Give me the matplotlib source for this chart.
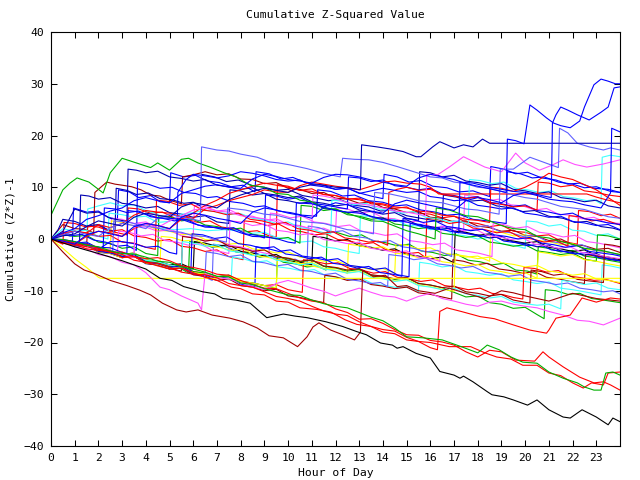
import matplotlib
matplotlib.use("Agg")
import matplotlib.pyplot as plt

# ---------------- data: (hour, cumulative value) breakpoints ----------------
RED = "#ff0000"; GREEN = "#00b000"; BLUE = "#0000ff"; NAVY = "#0000b0"; SLATE = "#6060ff"
MAGENTA = "#ff50ff"; CYAN = "#40ffff"; DARKRED = "#a00000"; YELLOW = "#ffff00"; BLACK = "#000000"

black_bottom = [(0,0),(1,-1.5),(2,-2.8),(3,-4.2),(3.5,-5.0),(4.0,-5.8),(4.6,-7.6),(5.1,-8.0),(5.6,-9.2),(6.4,-10.2),(6.9,-10.6),(7.25,-11.5),(7.8,-11.8),(8.4,-12.4),(9.1,-15.2),(9.8,-14.5),(10.3,-14.9),(10.8,-15.2),(11.6,-16.0),(12.3,-16.9),(12.9,-17.9),(13.3,-18.5),(13.9,-20.1),(14.4,-20.5),(14.6,-21.1),(14.85,-20.8),(15.1,-21.4),(15.4,-22.1),(16.0,-23.0),(16.4,-25.6),(17.0,-26.3),(17.25,-26.9),(17.4,-26.5),(17.8,-27.6),(18.4,-29.5),(18.6,-30.1),(19.1,-30.5),(19.5,-31.1),(20.1,-32.1),(20.5,-31.1),(21.0,-33.0),(21.6,-34.4),(21.9,-34.6),(22.4,-33.0),(23.0,-34.4),(23.5,-35.9),(23.7,-34.6),(24.0,-35.3)]
darkred_low = [(0,0),(0.5,-2.5),(1.0,-4.8),(1.4,-6.0),(1.8,-6.6),(2.5,-8.0),(3.2,-9.0),(3.75,-9.9),(4.2,-10.8),(4.7,-12.4),(5.3,-13.7),(5.7,-14.1),(6.2,-13.7),(6.8,-14.7),(7.55,-15.3),(8.1,-16.0),(8.7,-17.2),(9.2,-18.7),(9.8,-19.1),(10.4,-20.8),(10.8,-18.9),(11.05,-17.0),(11.3,-16.2),(11.8,-17.6),(12.3,-18.5),(12.8,-19.5),(13.05,-18.0),(13.15,-6.0),(13.6,-7.3),(14.1,-7.0),(14.6,-9.2),(15.0,-9.0),(15.5,-10.0),(16.2,-10.5),(16.8,-9.5),(17.5,-10.5),(18.3,-11.5),(19.0,-10.0),(19.5,-10.4),(20.0,-11.0),(21.0,-12.0),(22.0,-10.5),(22.5,-11.0),(23.0,-11.5),(24,-12.0)]
red_low_a = [(0,0),(0.5,-0.2),(1,-0.8),(1.5,-1.5),(2,-2.0),(2.5,-2.3),(3,-3.6),(3.5,-3.4),(4,-4.5),(4.5,-5.2),(5,-5.8),(5.5,-5.6),(6,-6.5),(6.5,-7.4),(7,-8.0),(7.6,-9.3),(8.0,-9.6),(8.5,-10.6),(9.0,-10.8),(9.5,-12.0),(10.0,-12.2),(10.5,-13.3),(11.2,-13.6),(11.8,-14.1),(12.4,-15.6),(12.9,-16.5),(13.5,-16.9),(14,-18),(14.5,-18.3),(15,-19.5),(15.5,-19.8),(16,-21),(16.3,-21.4),(16.4,-14.0),(16.7,-13.3),(17.3,-14.0),(18.1,-15.0),(18.7,-15.4),(19.5,-16.6),(20.2,-17.6),(20.9,-18.2),(21.0,-17.6),(21.3,-15.3),(21.9,-14.7),(22.4,-11.4),(23.0,-12.2),(23.6,-11.4),(24,-11.6)]
red_low_b = [(0,0),(0.5,-0.8),(1,-1.2),(1.5,-1.0),(2,-1.8),(2.5,-2.6),(3,-2.5),(3.5,-3.4),(4,-3.8),(4.5,-3.6),(5,-4.2),(5.5,-5.2),(6,-5.5),(6.5,-6.0),(7,-6.8),(7.5,-7.0),(8,-8.0),(8.5,-8.8),(9,-9.5),(9.5,-9.6),(10,-10.5),(10.5,-11.4),(11,-12.0),(11.5,-12.3),(12,-13.5),(12.5,-14.2),(13,-15.5),(13.5,-15.4),(14,-16.3),(14.5,-17.5),(15,-18.5),(15.5,-18.6),(16,-19.6),(16.5,-19.9),(17,-20.5),(17.5,-21.8),(18,-22.8),(18.5,-21.5),(19.0,-21.8),(19.6,-23.4),(20.4,-23.6),(20.75,-21.8),(21.0,-22.8),(21.6,-24.7),(22.3,-26.7),(22.9,-27.8),(23.3,-27.6),(23.6,-28.2),(24,-29.2)]
green_low = [(0,0),(0.5,-0.1),(1,-0.5),(1.5,-1.2),(2,-1.5),(2.5,-2.3),(3,-2.8),(3.5,-2.9),(4,-3.5),(4.5,-4.3),(5,-4.5),(5.5,-5.4),(6,-5.8),(6.5,-6.4),(7,-7.2),(7.5,-7.3),(8,-8.5),(8.5,-8.8),(9,-9.6),(9.5,-10.2),(10,-10.8),(10.5,-10.9),(11,-11.8),(11.5,-12.5),(12,-13.0),(12.5,-13.3),(13,-14.2),(13.5,-15.1),(14,-15.8),(14.5,-17.2),(15,-18.9),(15.7,-19.1),(16.5,-19.5),(17.3,-20.8),(18.0,-22.0),(18.4,-20.5),(18.9,-21.4),(19.4,-22.8),(19.9,-23.8),(20.5,-24.0),(21.0,-25.7),(21.6,-26.9),(22.2,-27.8),(22.5,-28.6),(22.9,-29.2),(23.2,-29.2),(23.4,-25.9),(23.7,-25.7),(24,-26.3)]
red_low_c = [(0,0),(0.5,-0.6),(1,-1),(1.5,-1.9),(2,-2.2),(2.5,-2.4),(3,-3),(3.5,-4.1),(4,-4.5),(4.5,-4.7),(5,-5.5),(5.5,-6.4),(6,-6.8),(6.5,-6.9),(7,-7.5),(7.5,-8.6),(8,-9),(8.5,-9.3),(9,-10.2),(9.5,-11.1),(10,-11.5),(10.5,-12.0),(11,-13),(11.5,-13.9),(12,-14.5),(12.5,-14.8),(13,-16),(13.5,-16.9),(14,-17.5),(14.5,-17.8),(15,-19),(15.5,-19.8),(16,-20),(16.8,-20.8),(17.7,-20.8),(18.3,-22.0),(18.8,-22.8),(19.4,-23.2),(19.9,-24.4),(20.5,-24.4),(21.0,-25.9),(21.5,-26.4),(22.0,-27.8),(22.45,-28.8),(22.8,-27.8),(23.3,-28.2),(23.5,-25.9),(24,-25.7)]
magenta_low = [(0,0),(0.5,-0.6),(1,-1.5),(1.5,-1.9),(2,-3),(2.5,-3.4),(3,-4.5),(3.5,-5.0),(4,-6.5),(4.6,-9.3),(5.0,-9.8),(5.5,-11),(6.2,-12.4),(6.35,-13.7),(6.5,-6.6),(7,-7.5),(7.5,-7.7),(8,-8.5),(8.5,-9.2),(9,-9.8),(9.5,-8.6),(10,-8),(10.5,-8.7),(11,-9.5),(11.5,-10.1),(12,-11),(12.5,-10.2),(13,-9.5),(13.5,-10.3),(14,-11),(14.5,-11.2),(15,-12),(15.5,-11.1),(16,-10.5),(16.5,-11.5),(17,-12),(17.5,-12.6),(18,-13),(18.5,-12.2),(19,-12),(19.5,-12.6),(20,-13),(20.5,-13.3),(21.0,-14.0),(21.6,-14.7),(22.2,-15.7),(22.7,-15.9),(23.3,-16.6),(24,-15.3)]
yellow_flat = [(0,0),(0.5,-1.8),(1,-3.8),(1.5,-5.5),(2,-7.4),(2.1,-7.6),(24,-7.6)]
red_flat = [(0,0),(0.5,0.9),(1,1.5),(1.5,1.1),(2,2.8),(2.5,2.2),(3,3),(3.5,4.6),(4,5.5),(4.5,5.2),(5,5),(5.5,4.3),(6,4),(6.5,5.8),(7,6.5),(7.5,7.4),(8,8),(8.5,8.6),(9,9.5),(9.5,9.1),(10,9),(10.5,10.3),(11,11),(11.5,10.6),(12,10.2),(12.5,9.9),(13,9.5),(13.5,10.2),(14,11),(14.5,11.2),(15,10.8),(15.6,10.6),(16.0,10.0),(16.35,8.7),(22.6,8.7),(23.0,8.1),(23.4,7.6),(24,7.0)]
navy_flat = [(0,0),(0.5,0.6),(1,1),(1.5,2.4),(2,3.5),(2.5,3.0),(3,2.5),(3.5,4.2),(4,5),(4.5,4.6),(5,4.2),(5.5,6.2),(6,7),(6.5,6.6),(7,6),(7.5,7.6),(8,8.5),(8.5,9.2),(9,9.8),(9.5,9.4),(10,9),(10.5,10.0),(11,10.5),(11.5,10.4),(12,10),(12.5,9.9),(13.05,9.5),(13.1,18.2),(13.75,17.8),(14.3,17.4),(14.85,16.9),(15.4,15.9),(15.6,15.9),(16.1,17.8),(16.4,18.8),(17.0,17.6),(17.4,18.2),(17.8,17.8),(18.2,19.3),(18.5,18.5),(24,18.5)]
blue_top1 = [(0,0),(0.5,1.2),(1,2),(1.5,3.8),(2,4.5),(2.5,5.4),(3,6),(3.5,7.4),(4,8),(4.5,7.4),(5,7),(5.5,8.8),(6,9.5),(6.5,10.2),(7,10.5),(7.5,10.0),(8,9.8),(8.5,11.6),(9,12.5),(9.5,12.1),(10,11.5),(10.5,11.2),(11,10.8),(11.5,11.9),(12,12.5),(12.5,12.4),(13,12),(13.5,11.4),(14,11),(14.5,10.5),(15,10.2),(15.5,11.8),(16,12.5),(16.5,12.0),(17,11.5),(17.5,10.7),(18,10.2),(18.6,9.6),(19.2,9.0),(19.25,19.3),(19.6,19.0),(19.95,18.4),(20.2,25.9),(20.5,24.9),(20.9,23.4),(21.2,22.4),(21.5,21.9),(21.9,21.5),(22.3,22.8),(22.5,25.5),(22.9,29.8),(23.2,30.9),(23.5,30.5),(23.8,30.0),(24,30.0)]
blue_top2 = [(0,0),(0.5,-0.4),(1,-1),(1.5,0.8),(2,1.5),(2.5,1.0),(3,0.5),(3.5,2.4),(4,3),(4.5,2.6),(5,2),(5.5,4.2),(6,5),(6.5,4.6),(7,4),(7.5,3.6),(8,3),(8.5,5.2),(9,6),(9.5,5.6),(10,5),(10.5,4.6),(11,4),(11.5,6.2),(12,7),(12.5,6.6),(13,6),(13.5,5.4),(14,5),(14.5,6.8),(15,7.5),(15.5,7.0),(16,6.5),(16.5,6.0),(17,5.5),(17.5,7.4),(18,8),(18.5,7.6),(19,7),(19.5,8.4),(20,9),(20.5,8.6),(21.1,8.0),(21.15,22.4),(21.3,24.0),(21.5,25.5),(21.8,24.9),(22.2,24.0),(22.7,23.0),(23.2,24.5),(23.5,25.5),(23.75,29.2),(24,29.4)]
green_top = [(0,4.6),(0.5,9.5),(0.8,10.8),(1.1,11.8),(1.6,11.0),(2.2,8.9),(2.5,12.8),(3.0,15.6),(3.6,14.7),(4.2,13.8),(4.5,14.7),(5.0,13.3),(5.5,15.4),(5.8,15.6),(6.2,14.7),(6.7,13.9),(7.3,12.8),(7.8,12.0),(8.4,10.4),(9.0,10.0),(9.5,8.8),(10.0,8.6),(10.5,7.5),(11.0,7.2),(11.5,6.0),(12.0,5.8),(12.5,5.0),(13.0,4.2),(13.5,3.5),(14.0,3.4),(14.5,2.5),(15.0,1.6),(15.5,1.0),(16.2,0.0),(16.25,6.0),(16.8,5.6),(17.5,4.5),(18.0,4.3),(18.5,3.5),(19.0,2.6),(19.5,2.0),(20.0,1.8),(20.5,0.5),(21.0,0.2),(21.5,-0.5),(22.0,-1.0),(22.5,-1.8),(23.2,-2.2),(24,-3.0)]
slate_top = [(0,0),(0.5,0.8),(1,1.5),(1.5,0.9),(2,0.5),(2.5,2.2),(3,3.0),(3.5,2.6),(4,2.0),(4.5,4.0),(5,4.8),(5.5,4.2),(6,3.8),(6.3,3.5),(6.35,17.8),(7.0,17.2),(7.5,17.0),(8.0,16.4),(8.7,15.8),(9.2,14.9),(9.6,14.7),(10.1,14.3),(10.8,13.6),(11.5,12.7),(12.2,12.0),(12.3,15.6),(12.8,15.4),(13.4,15.3),(14.0,14.8),(14.6,14.0),(15.3,13.0),(16.0,12.0),(16.5,11.8),(17.0,11.0),(17.5,10.7),(18.0,10.0),(18.5,9.8),(19.0,9.2),(19.5,8.5),(20.0,8.0),(20.5,7.7),(21.0,7.0),(21.5,6.3),(22.0,6.0),(22.5,5.7),(23.0,5.0),(23.5,4.3),(24,4.0)]
slate_right = [(0,0),(0.5,-0.3),(1,-1),(1.5,-1.2),(2,-2),(2.6,-2.5),(2.65,3.5),(3.2,3.3),(4,2.5),(4.5,2.1),(5,1.5),(5.5,1.3),(6,0.6),(6.5,0.5),(7,-0.2),(7.4,-0.6),(7.45,6.0),(8.2,5.6),(9,4.8),(9.5,4.6),(10,4.0),(10.5,3.4),(11,3.2),(11.5,3.0),(12,2.4),(12.5,1.8),(13,1.6),(13.6,1.0),(13.65,9.0),(14.3,8.7),(15,8.0),(15.5,7.4),(16,7.2),(16.5,7.0),(17,6.4),(17.5,5.8),(18,5.6),(18.9,4.8),(18.95,13.5),(19.5,13.5),(20.2,15.8),(20.8,14.8),(21.4,13.8),(21.45,21.4),(21.8,20.5),(22.2,18.5),(22.7,17.8),(23.3,17.2),(23.6,17.6),(24,17.2)]
magenta_upper = [(0,0),(0.5,-0.3),(1,-1),(1.5,-1.2),(2,-2),(2.5,-2.1),(3,-3),(3.5,-3.5),(3.55,3.0),(4.0,2.8),(4.5,2.2),(5.0,3.5),(5.5,4.5),(6.0,5.6),(6.5,6.0),(7.0,5.4),(7.5,5.2),(8.0,4.5),(8.5,4.2),(9.0,3.9),(9.5,3.4),(10.0,2.7),(10.5,2.5),(11,2.0),(11.05,8.5),(11.5,8.3),(12,7.8),(12.5,7.0),(13,6.8),(13.5,6.5),(14,6.0),(14.5,5.4),(15,5.2),(15.8,4.5),(15.85,12.5),(16.3,12.4),(16.8,13.9),(17.4,15.9),(17.8,15.0),(18.3,13.9),(19.0,13.0),(19.6,16.6),(20.0,14.7),(20.6,13.3),(21.1,14.2),(21.6,15.3),(22.1,14.4),(22.6,13.9),(23.3,14.5),(24,15.3)]
blue_late = [(0,0),(0.5,-0.1),(1,-0.5),(1.5,-1.2),(2,-1.6),(2.5,-1.7),(3,-2.6),(3.2,-2.8),(3.25,5.5),(3.6,5.3),(4,4.8),(4.5,4.1),(5,4.0),(5.5,3.8),(6,3.0),(6.5,2.3),(7,2.2),(7.5,2.0),(8,1.2),(8.5,0.5),(9,0.4),(9.5,0.1),(10,-0.6),(10.3,-0.8),(10.35,7.0),(11.0,6.8),(11.5,6.2),(12.0,5.5),(12.5,5.2),(13.0,5.0),(13.5,4.4),(14.0,3.7),(14.5,3.6),(15.0,3.3),(15.5,2.6),(16.0,2.0),(16.5,1.8),(17.2,1.2),(17.25,11.0),(17.8,10.8),(18.5,10.0),(19.0,9.6),(19.5,9.2),(20.0,9.0),(20.5,8.4),(21.0,7.7),(21.5,7.4),(22.0,7.2),(22.5,6.6),(23.2,6.0),(23.6,8.9),(23.65,21.4),(24,20.7)]

blue_b1 = [(0,0),(0.5,-0.6),(0.9,-0.9),(0.95,6.0),(1.5,5.2),(2.0,5.4),(2.4,4.2),(2.8,3.8),(2.85,9.5),(3.3,9.1),(3.7,8.0),(4.2,8.4),(4.6,7.2),(5.0,7.0),(5.05,12.8),(5.6,12.0),(6.1,12.3),(6.6,11.2),(7.1,10.9),(7.6,10.1),(8.1,10.4),(8.6,9.1),(8.65,13.0),(9.2,12.6),(9.7,11.6),(10.2,11.9),(10.8,10.8),(11.4,10.5),(12.0,9.6),(12.5,9.8),(13.0,8.9),(13.5,8.3),(14.0,7.8),(14.05,12.5),(14.6,12.0),(15.1,11.0),(15.6,11.3),(16.1,10.2),(16.7,9.9),(17.2,9.1),(17.8,9.3),(18.5,8.2),(18.55,14.0),(19.1,13.5),(19.6,12.6),(20.1,12.9),(20.7,11.8),(21.3,11.4),(21.8,10.6),(22.3,10.8),(22.9,9.8),(23.5,9.6),(24,9.0)]
navy_b2 = [(0,0),(0.3,1.8),(0.5,3.8),(1.0,3.4),(1.5,2.5),(2.0,2.8),(2.4,1.8),(2.7,1.5),(2.75,9.8),(3.2,9.4),(3.6,8.6),(4.1,8.9),(4.6,7.8),(5.1,7.6),(5.6,6.9),(6.0,7.1),(6.3,6.4),(6.35,12.5),(6.9,12.0),(7.4,11.1),(7.9,11.4),(8.5,10.3),(9.0,10.0),(9.5,9.4),(10.0,9.6),(10.6,8.4),(11.1,8.0),(11.7,7.4),(12.2,7.6),(12.8,6.5),(13.4,6.2),(13.9,5.4),(14.4,5.6),(15.0,4.5),(15.6,4.0),(16.1,3.6),(16.5,3.3),(16.55,8.5),(17.1,8.1),(17.6,7.3),(18.2,7.5),(18.8,6.4),(19.4,6.0),(19.9,5.3),(20.4,5.5),(21.0,4.4),(21.6,4.0),(22.1,3.2),(22.6,3.4),(23.2,2.4),(23.7,2.1),(24,1.7)]
blue_b3 = [(0,0),(0.4,1.1),(0.8,0.6),(1.3,0.9),(1.8,-0.2),(2.3,-0.6),(2.8,-1.4),(3.2,-1.2),(3.6,-2.2),(3.65,11.0),(4.1,10.6),(4.6,9.8),(5.1,10.0),(5.6,9.0),(6.1,8.8),(6.6,8.0),(7.0,8.2),(7.6,7.2),(8.1,6.9),(8.6,6.2),(9.0,6.4),(9.6,5.4),(10.1,5.1),(10.6,4.6),(11.2,4.4),(11.25,9.5),(11.8,9.2),(12.3,8.3),(12.8,8.5),(13.4,7.4),(14.0,7.1),(14.5,6.4),(15.0,6.6),(15.6,5.6),(16.2,5.2),(16.7,4.6),(17.2,4.8),(17.8,3.8),(18.4,3.5),(19.2,3.0),(19.25,13.0),(19.8,12.6),(20.3,11.8),(20.8,12.0),(21.4,11.0),(22.0,10.6),(22.5,9.9),(23.0,10.1),(23.6,9.2),(24,9.0)]
slate_b4 = [(0,0),(0.5,-0.4),(1,-1.5),(1.5,-1.2),(2,-2.6),(2.5,-2.8),(3,-3.6),(3.5,-3.3),(4,-4.8),(4.5,-5.0),(5,-5.8),(5.5,-5.5),(6,-6.9),(6.4,-7.2),(6.8,-8.0),(6.85,-1.0),(7.3,-1.3),(7.8,-2.2),(8.3,-1.9),(8.8,-3.0),(9.3,-3.3),(9.8,-4.1),(10.3,-3.9),(10.8,-5.0),(10.85,2.5),(11.3,2.2),(11.8,1.3),(12.3,1.6),(12.8,0.5),(13.3,0.2),(13.8,-0.6),(14.3,-0.3),(14.8,-1.5),(15.3,-1.8),(15.8,-2.5),(16.3,-2.2),(16.9,-3.4),(16.95,3.5),(17.4,3.2),(17.9,2.3),(18.4,2.6),(18.9,1.5),(19.4,1.2),(19.9,0.5),(20.4,0.8),(20.9,-0.4),(21.4,-0.7),(21.9,-1.4),(22.4,-1.1),(22.9,-2.2),(23.4,-2.4),(24,-3.1)]
magenta_b5 = [(0,0),(0.5,-0.2),(1,-0.9),(1.5,-0.7),(2,-1.8),(2.5,-2.2),(2.55,4.0),(3.0,3.8),(3.5,3.0),(4.0,3.3),(4.5,2.1),(5.0,1.9),(5.5,1.1),(6.0,0.8),(6.05,6.5),(6.5,6.3),(7.0,5.4),(7.5,5.7),(8.0,4.6),(8.5,4.4),(9.0,3.6),(9.5,3.9),(10.0,2.8),(10.5,2.6),(11.0,1.8),(11.5,2.1),(12.0,1.2),(12.05,6.0),(12.5,5.8),(13.0,5.0),(13.5,5.3),(14.0,4.1),(14.5,3.9),(15.0,3.2),(15.5,3.5),(16.0,2.4),(16.5,2.2),(17.0,1.6),(17.4,1.4),(17.45,8.5),(17.9,8.2),(18.4,7.4),(18.9,7.7),(19.4,6.6),(19.9,6.4),(20.4,5.6),(20.9,5.9),(21.4,4.8),(21.9,4.6),(22.4,3.9),(22.9,4.2),(23.4,3.2),(24,3.0)]
cyan_b6 = [(0,0),(0.5,-0.2),(1,-0.6),(1.5,-1.0),(1.55,5.8),(2.0,6.4),(2.5,7.0),(3,6.4),(3.5,6.6),(4,5.5),(4.5,4.8),(4.55,2.2),(5.2,1.8),(5.9,2.0),(6.6,1.6),(7.3,1.8),(8,1.6),(8.5,1.1),(9.0,1.3),(9.5,0.3),(10.0,0.0),(10.5,-0.6),(11.0,-0.4),(11.5,-1.5),(12.0,-1.8),(12.5,-2.4),(13,-2.8),(13.05,4.5),(13.5,4.3),(14,3.5),(14.5,3.8),(15,2.7),(15.5,2.5),(16,1.8),(16.5,2.1),(17,0.9),(17.5,0.6),(18,0.0),(18.5,0.3),(19,-0.9),(19.5,-1.2),(20,-1.8),(20.05,3.5),(20.5,3.3),(21,2.5),(21.5,2.8),(22,1.7),(22.5,1.5),(23,0.7),(23.5,1.0),(24,0.0)]
green_b7 = [(0,0),(0.5,-0.4),(1,-1.3),(1.5,-1.0),(2,-2.4),(2.5,-2.7),(3,-3.5),(3.5,-3.2),(4,-4.6),(4.5,-4.9),(5,-5.7),(5.4,-5.5),(5.8,-6.6),(5.85,-0.5),(6.3,-0.8),(6.8,-1.6),(7.3,-1.3),(7.8,-2.5),(8.3,-2.8),(8.8,-3.5),(9.3,-3.2),(9.8,-4.5),(10.3,-4.8),(10.8,-5.4),(11.2,-5.2),(11.6,-6.0),(11.65,1.5),(12.1,1.2),(12.6,0.5),(13.1,0.8),(13.6,-0.4),(14.1,-0.7),(14.6,-1.3),(15.1,-1.0),(15.6,-2.3),(16.1,-2.6),(16.6,-3.2),(17.1,-2.9),(17.6,-4.1),(18.1,-4.4),(18.6,-5.0),(19.1,-4.7),(19.6,-6.0),(20.1,-6.2),(20.5,-6.8),(20.55,-1.5),(21.0,-1.8),(21.5,-2.5),(22.0,-2.2),(22.5,-3.3),(23.0,-3.6),(23.5,-4.1),(24,-4.5)]
red_b8 = [(0,0),(0.5,-1.0),(0.55,3.2),(1.0,3.0),(1.5,2.3),(2.0,2.6),(2.5,1.5),(3.2,0.8),(3.25,6.0),(3.7,5.8),(4.2,5.0),(4.7,5.2),(5.2,4.1),(5.7,3.8),(6.2,3.2),(6.7,3.5),(7.2,2.3),(7.7,2.0),(8.2,1.4),(8.7,1.6),(9.2,0.6),(9.5,0.4),(9.55,10.5),(10.0,10.2),(10.5,9.4),(11.0,9.7),(11.5,8.6),(12.0,8.4),(12.5,7.7),(13.0,7.9),(13.5,6.8),(14.0,6.6),(14.5,5.9),(15.0,6.2),(15.5,5.0),(16.0,4.8),(16.5,4.1),(17.0,4.4),(17.5,3.3),(18.0,3.0),(18.5,2.4),(19.0,2.7),(19.5,1.5),(20.0,1.3),(20.5,0.6),(21.0,0.8),(21.5,-0.4),(22.2,-1.0),(22.25,5.5),(22.7,5.3),(23.2,4.5),(23.6,4.8),(24,4.0)]
darkred_b9 = [(0,0),(0.5,2.8),(1.0,2.0),(1.4,1.9),(1.8,1.2),(1.85,9.0),(2.35,11.0),(2.7,10.6),(3.0,10.4),(3.4,10.1),(3.8,9.5),(4.2,8.5),(4.6,8.3),(5,7.5),(5.5,6.8),(5.55,12.0),(6.0,12.4),(6.5,13.0),(7.0,12.4),(7.5,12.6),(8.0,11.6),(8.5,11.5),(9.0,10.7),(9.5,10.9),(10.0,9.8),(10.5,9.6),(11.0,8.8),(11.5,9.0),(12.0,7.9),(12.5,7.7),(13.0,6.9),(13.5,7.2),(14.0,6.1),(14.5,5.8),(15.0,5.1),(15.5,5.3),(16.0,4.2),(16.5,4.0),(17.0,3.3),(17.5,3.5),(18.0,2.5),(18.5,2.2),(19.0,1.5),(19.5,1.7),(20.0,0.7),(20.5,0.5),(21.0,-0.3),(21.5,0.0),(22.0,-1.1),(22.5,-1.3),(23.0,-2.0),(23.5,-1.8),(24,-2.6)]
yellow_b10 = [(0,0),(0.5,-0.3),(1,-0.9),(1.5,-0.7),(2,-1.7),(2.5,-2.0),(2.55,3.5),(3.0,3.2),(3.5,2.5),(4.0,2.8),(4.5,1.7),(5.0,1.5),(5.5,0.8),(6.0,1.0),(6.5,-0.1),(7.0,-0.4),(7.5,-1.0),(8.0,-0.8),(8.5,-1.9),(9.0,-2.2),(9.5,-2.7),(10.0,-2.5),(10.5,-3.5),(11.0,-3.8),(11.5,-4.3),(12.0,-4.1),(12.5,-5.1),(13.0,-5.4),(13.5,-5.9),(14.0,-5.7),(14.5,-6.6),(14.55,-1.0),(15.0,-1.2),(15.5,-1.9),(16.0,-1.7),(16.5,-2.7),(17.0,-3.0),(17.5,-3.5),(18.0,-3.3),(18.5,-4.3),(18.55,1.5),(19.0,1.3),(19.5,0.6),(20.0,0.8),(20.5,-0.3),(21.0,-0.5),(21.5,-1.1),(22.0,-0.9),(22.5,-1.9),(23.0,-2.2),(23.5,-2.6),(24,-3.0)]
blue_b11 = [(0,0),(0.5,-0.3),(1,-1.1),(1.5,-0.9),(2,-2.3),(2.5,-2.6),(3,-3.4),(3.5,-3.1),(4,-4.5),(4.5,-4.8),(5,-5.5),(5.5,-5.2),(6,-6.7),(6.5,-7.0),(7,-7.6),(7.5,-7.3),(8,-8.7),(8.6,-9.2),(8.65,-1.5),(9.1,-1.8),(9.6,-2.4),(10.1,-2.1),(10.6,-3.3),(11.1,-3.6),(11.6,-4.1),(12.1,-3.8),(12.6,-5.1),(13.1,-5.4),(13.6,-5.9),(14.1,-5.6),(14.6,-6.9),(15.1,-7.3),(15.15,3.0),(15.6,2.8),(16.1,2.1),(16.6,2.4),(17.1,1.3),(17.6,1.0),(18.1,0.5),(18.6,0.8),(19.1,-0.4),(19.6,-0.7),(20.1,-1.3),(20.6,-1.0),(21.1,-2.1),(21.6,-2.4),(22.1,-2.9),(22.6,-2.6),(23.1,-3.6),(23.6,-3.9),(24,-4.2)]
cyan_b12 = [(0,0),(0.5,-0.4),(1,-1.2),(1.5,-1.0),(2,-2.3),(2.5,-2.6),(3,-3.4),(3.5,-3.1),(4,-4.5),(4.5,-4.8),(5,-5.5),(5.5,-5.2),(6,-6.5),(6.5,-6.8),(7,-7.5),(7.6,-8.0),(7.65,-3.5),(8.1,-3.8),(8.6,-4.5),(9.1,-4.2),(9.6,-5.4),(10.1,-5.7),(10.6,-6.2),(11.1,-5.9),(11.6,-7.1),(12.1,-7.4),(12.6,-7.9),(13.1,-7.6),(13.6,-8.7),(14.1,-9.0),(14.6,-9.4),(15.1,-9.2),(15.5,-10.2),(15.55,-4.5),(16.0,-4.8),(16.5,-5.4),(17.0,-5.1),(17.5,-6.3),(18.0,-6.6),(18.5,-7.0),(19.0,-6.7),(19.5,-7.9),(20.0,-8.2),(20.5,-8.6),(21.0,-8.3),(21.5,-9.5),(22.0,-9.8),(22.5,-10.2),(23.2,-10.8),(23.25,-5.0),(23.6,-5.2),(24,-5.6)]
red_b13 = [(0,0),(0.5,-0.4),(1,-1.0),(1.5,-1.5),(1.55,2.5),(2.0,2.3),(2.5,1.5),(3.0,1.8),(3.5,0.6),(4.0,0.3),(4.5,-0.4),(5.0,-0.1),(5.5,-1.4),(6.0,-1.7),(6.5,-2.4),(7.0,-2.1),(7.5,-3.4),(8.1,-4.0),(8.15,3.5),(8.6,3.3),(9.1,2.6),(9.6,2.9),(10.1,1.7),(10.6,1.4),(11.1,0.8),(11.6,1.0),(12.1,-0.1),(12.6,-0.4),(13.1,-1.0),(13.6,-0.7),(14.1,-2.0),(14.6,-2.3),(15.1,-2.8),(15.5,-2.6),(15.8,-3.6),(15.85,4.0),(16.3,3.8),(16.8,3.0),(17.3,3.3),(17.8,2.1),(18.3,1.8),(18.8,1.2),(19.3,1.5),(19.8,0.3),(20.3,0.0),(20.8,-0.6),(21.3,-0.3),(21.8,-1.4),(21.85,4.5),(22.3,4.3),(22.8,3.5),(23.3,3.8),(24,2.7)]
magenta_b14 = [(0,0),(0.5,-0.3),(1,-1.0),(1.5,-0.8),(2,-2.0),(2.5,-2.3),(3,-3.0),(3.5,-3.6),(3.55,2.5),(4.0,2.3),(4.5,1.5),(5.0,1.8),(5.5,0.6),(6.0,0.3),(6.5,-0.4),(7.0,-0.1),(7.5,-1.2),(8.0,-1.5),(8.5,-2.2),(9.2,-2.9),(9.25,5.0),(9.6,4.8),(10.1,4.1),(10.6,4.4),(11.1,3.3),(11.6,3.0),(12.1,2.4),(12.6,2.7),(13.1,1.5),(13.6,1.2),(14.1,0.7),(14.6,1.0),(15.1,-0.3),(15.6,-0.6),(16.1,-1.1),(16.6,-0.8),(17.1,-2.1),(17.6,-2.4),(18.1,-2.8),(18.6,-3.4),(18.65,3.0),(19.1,2.8),(19.6,2.1),(20.1,2.4),(20.6,1.3),(21.1,1.0),(21.6,0.4),(22.1,0.7),(22.6,-0.5),(23.1,-0.8),(23.6,-1.3),(24,-1.7)]
green_b15 = [(0,0),(0.5,0.8),(1,0.5),(1.5,0.7),(2,-0.6),(2.5,-0.9),(3,-1.8),(3.5,-1.5),(4,-2.8),(4.5,-3.2),(4.55,4.5),(5.0,4.3),(5.5,3.5),(6.0,3.8),(6.5,2.7),(7.0,2.4),(7.5,1.8),(8.0,2.1),(8.5,0.9),(9.0,0.6),(9.5,0.0),(10.0,0.3),(10.5,-0.8),(10.55,6.5),(11.0,6.3),(11.5,5.5),(12.0,5.8),(12.5,4.7),(13.0,4.4),(13.5,3.8),(14.0,4.1),(14.5,2.9),(15.0,2.6),(15.5,2.0),(16.0,2.3),(16.5,1.1),(17.0,0.8),(17.5,0.3),(18.0,0.6),(18.5,-0.6),(19.0,-0.9),(19.5,-1.4),(20.0,-1.1),(20.5,-2.3),(21.0,-2.6),(21.5,-3.0),(22.0,-2.7),(22.5,-3.9),(23,-4.3),(23.05,0.8),(23.5,0.6),(24,0.0)]
navy_b16 = [(0,0),(0.5,-0.5),(1,-1.2),(1.2,-1.4),(1.25,8.5),(1.6,8.3),(2.0,7.7),(2.5,8.0),(3.0,6.9),(3.5,6.6),(4.0,6.0),(4.5,6.3),(5.0,5.1),(5.5,4.8),(6.0,4.2),(6.5,4.5),(7.0,3.3),(7.5,3.0),(7.55,9.5),(8.0,9.3),(8.5,8.5),(9.0,8.8),(9.5,7.7),(10.0,7.4),(10.5,6.9),(11.0,7.2),(11.5,5.9),(12.0,5.6),(12.5,5.1),(13.0,5.4),(13.5,4.3),(14.0,4.0),(14.5,3.4),(15.0,3.7),(15.5,2.7),(16.0,2.4),(16.5,1.9),(17.0,2.2),(17.5,1.1),(18.0,0.8),(18.5,0.2),(19.0,0.5),(19.5,-0.6),(20.0,-0.9),(20.5,-1.5),(21.0,-1.2),(21.5,-2.3),(22.0,-2.6),(22.5,-3.1),(23.0,-2.8),(23.5,-3.9),(24,-4.2)]
yellow_b17 = [(0,0),(0.5,-0.3),(1,-1.0),(1.5,-0.8),(2,-2.0),(2.5,-2.3),(3,-3.0),(3.5,-2.7),(4,-4.0),(4.6,-4.5),(4.65,0.5),(5.1,0.3),(5.6,-0.4),(6.1,-0.1),(6.6,-1.3),(7.1,-1.6),(7.6,-2.2),(8.1,-1.9),(8.6,-3.2),(9.1,-3.5),(9.6,-4.0),(10.1,-3.7),(10.6,-5.0),(11.1,-5.3),(11.6,-5.8),(12.1,-5.5),(12.5,-6.7),(12.55,-1.0),(13.0,-1.3),(13.5,-1.8),(14.0,-1.5),(14.5,-2.7),(15.0,-3.0),(15.5,-3.6),(16.0,-3.3),(16.5,-4.4),(17.0,-4.7),(17.5,-5.2),(18.0,-4.9),(18.5,-6.0),(19.0,-6.3),(19.5,-6.8),(20.0,-6.5),(20.5,-7.6),(20.55,-2.5),(21.0,-2.8),(21.5,-3.3),(22.0,-3.0),(22.5,-4.0),(23.0,-4.3),(23.5,-4.8),(24,-5.2)]
red_b18 = [(0,0),(0.5,-0.4),(1,-1.1),(1.5,-0.9),(2,-2.2),(2.5,-2.5),(3,-3.3),(3.5,-3.0),(4,-4.3),(4.5,-4.6),(5,-5.3),(5.5,-5.0),(6,-6.3),(6.5,-6.6),(7,-7.3),(7.5,-7.0),(8,-8.2),(8.5,-8.5),(9,-9.0),(9.5,-8.8),(10,-9.8),(10.6,-10.3),(10.65,-4.0),(11.1,-4.3),(11.6,-4.8),(12.1,-4.6),(12.6,-5.7),(13.1,-6.0),(13.6,-6.6),(14.1,-6.3),(14.6,-7.4),(15.1,-7.7),(15.6,-8.2),(16.1,-7.9),(16.6,-9.0),(17.1,-9.3),(17.6,-9.8),(18.1,-9.5),(18.6,-10.5),(19.1,-10.8),(19.5,-11.3),(19.9,-11.6),(19.95,-5.5),(20.4,-5.7),(20.9,-6.4),(21.4,-6.1),(21.9,-7.2),(22.4,-7.5),(22.9,-8.0),(23.4,-7.8),(24,-8.6)]
cyan_b19 = [(0,0),(0.5,2.0),(1,1.5),(1.5,1.7),(2,0.5),(2.4,0.0),(2.45,5.0),(3.0,4.7),(3.5,4.2),(4.0,4.4),(4.5,3.2),(5.0,3.4),(5.5,4.8),(6.0,5.1),(6.5,5.6),(7.0,5.2),(7.5,4.8),(8.0,4.9),(8.5,4.0),(9.0,3.7),(9.5,3.0),(10.0,3.3),(10.5,2.2),(11.0,1.9),(11.5,1.2),(11.8,1.0),(11.85,7.5),(12.3,7.3),(12.8,6.6),(13.3,6.9),(13.8,5.8),(14.3,5.5),(14.8,5.0),(15.3,5.3),(15.8,4.2),(16.3,3.9),(16.8,3.3),(17.2,3.5),(17.6,2.8),(17.65,11.5),(18.1,11.3),(18.6,10.7),(19.1,11.0),(19.6,9.8),(20.1,9.5),(20.6,9.0),(21.1,9.3),(21.6,8.2),(22.1,7.9),(22.6,7.4),(22.9,7.6),(23.2,6.8),(23.25,15.8),(23.6,16.2),(24,15.9)]
slate_b20 = [(0,0),(0.5,-0.5),(1,-1.2),(1.5,-1.0),(2,-2.3),(2.5,-2.6),(3,-3.5),(3.5,-3.2),(4,-4.5),(4.5,-4.8),(5,-5.6),(5.5,-5.3),(6,-6.6),(6.5,-7.0),(6.55,-2.5),(7.0,-2.8),(7.5,-3.4),(8.0,-3.1),(8.5,-4.3),(9.0,-4.6),(9.5,-5.2),(10.0,-4.9),(10.5,-6.0),(11.0,-6.3),(11.5,-6.9),(12.0,-6.6),(12.5,-7.8),(13.0,-8.1),(13.5,-8.6),(13.9,-8.4),(14.2,-9.2),(14.25,-3.0),(14.8,-3.3),(15.3,-4.0),(15.8,-3.7),(16.3,-4.8),(16.8,-5.1),(17.3,-5.6),(17.8,-5.3),(18.3,-6.4),(18.8,-6.7),(19.3,-7.2),(19.8,-6.9),(20.3,-8.0),(20.8,-8.3),(21.3,-8.8),(21.8,-8.5),(22.3,-9.5),(22.8,-9.8),(23.3,-10.2),(23.7,-10.0),(24,-10.6)]
blue_b21 = [(0,0),(0.5,-0.2),(1,-0.8),(1.5,-0.6),(2,-1.8),(2.2,-2.0),(2.25,6.0),(2.7,5.8),(3.2,5.1),(3.7,5.4),(4.2,4.3),(4.7,4.0),(5.2,3.5),(5.7,3.8),(6.2,2.7),(6.7,2.4),(7.2,1.9),(7.7,2.2),(8.2,1.0),(8.7,0.7),(9,0.2),(9.05,8.5),(9.5,8.3),(10,7.7),(10.5,8.0),(11,6.9),(11.5,6.6),(12,6.2),(12.5,5.8),(12.55,12.0),(13.0,11.8),(13.5,11.1),(14.0,11.4),(14.5,10.3),(15.0,10.0),(15.5,9.5),(16.0,9.8),(16.5,8.7),(17.0,8.4),(17.5,7.9),(18.0,8.2),(18.5,7.1),(19.0,6.8),(19.5,6.3),(20.0,6.6),(20.5,5.5),(21.0,5.2),(21.5,4.7),(22.0,5.0),(22.5,3.9),(23.0,3.6),(23.5,3.1),(24,2.8)]
darkred_b22 = [(0,0),(0.5,-0.4),(1,-1.2),(1.5,-1.0),(2,-2.4),(2.5,-2.7),(3,-3.6),(3.5,-3.3),(4,-4.7),(4.5,-5.0),(5,-5.8),(5.5,-5.5),(6,-6.9),(6.5,-7.2),(7,-8.0),(7.5,-7.7),(8,-9.0),(8.5,-9.3),(9,-10.0),(9.5,-9.7),(10,-11.0),(10.5,-11.3),(11,-11.8),(11.5,-12.3),(11.55,-7.0),(12.0,-7.3),(12.5,-8.0),(13.0,-7.7),(13.5,-8.8),(14.0,-9.1),(14.5,-9.6),(15.0,-9.3),(15.5,-10.4),(16.0,-10.7),(16.5,-11.2),(16.9,-11.6),(16.95,-4.0),(17.4,-4.3),(17.9,-5.0),(18.4,-4.7),(18.9,-5.8),(19.4,-6.1),(19.9,-6.6),(20.4,-6.3),(20.9,-7.4),(21.4,-7.7),(21.9,-8.2),(22.5,-8.6),(22.55,-3.0),(23.0,-3.3),(23.5,-3.8),(24,-4.2)]
magenta_b23 = [(0,0),(0.5,-0.3),(1,-1.0),(1.5,-0.8),(2,-2.0),(2.5,-2.3),(2.8,-2.8),(2.85,1.5),(3.3,1.3),(3.8,0.6),(4.3,0.9),(4.8,-0.3),(5.3,-0.6),(5.8,-1.2),(6.3,-0.9),(6.8,-2.2),(7.2,-2.5),(7.5,-2.8),(7.55,3.5),(8.0,3.3),(8.5,2.6),(9.0,2.9),(9.5,1.7),(10.0,1.4),(10.5,0.8),(11.0,1.1),(11.5,-0.1),(12.0,-0.4),(12.5,-0.9),(13.0,-0.6),(13.5,-1.8),(14.0,-2.1),(14.5,-2.6),(15.0,-2.3),(15.5,-3.5),(16.0,-3.8),(16.4,-4.3),(16.45,2.5),(16.9,2.3),(17.4,1.6),(17.9,1.9),(18.4,0.7),(18.9,0.4),(19.4,-0.1),(19.9,0.2),(20.4,-1.0),(20.9,-1.3),(21.4,-1.8),(21.9,-1.5),(22.4,-2.6),(22.9,-2.9),(23.4,-3.4),(24,-3.8)]
green_b26 = [(0,0),(0.5,-0.4),(1,-1.2),(1.5,-1.0),(2,-2.2),(2.5,-2.5),(3,-3.3),(3.5,-3.0),(4,-4.3),(4.5,-4.6),(5,-5.4),(5.5,-5.1),(6,-6.3),(6.5,-6.6),(7,-7.3),(7.5,-7.0),(8,-8.2),(8.5,-8.5),(9,-9.0),(9.5,-9.5),(9.55,-3.5),(10.0,-3.8),(10.5,-4.4),(11.0,-4.1),(11.5,-5.3),(12.0,-5.6),(12.5,-6.2),(13.0,-5.9),(13.5,-7.0),(14.0,-7.3),(14.5,-7.8),(15.0,-7.5),(15.5,-8.6),(16.0,-8.9),(16.5,-9.4),(17.0,-10.3),(17.5,-11.2),(18.0,-11.0),(18.5,-12.3),(19.0,-12.6),(19.5,-13.4),(20.0,-13.2),(20.5,-14.6),(20.8,-15.4),(20.85,-9.8),(21.3,-10.0),(21.8,-10.7),(22.3,-10.5),(22.8,-11.5),(23.3,-11.8),(24,-12.3)]
red_b27 = [(0,0),(0.5,1.2),(1,1.5),(1.5,1.2),(2,0.5),(2.5,0.7),(3,-0.6),(3.5,-0.8),(4,-1.6),(4.4,-2.0),(4.45,7.5),(4.9,7.3),(5.4,6.5),(5.9,6.8),(6.4,5.6),(6.9,5.3),(7.4,4.7),(7.9,5.0),(8.4,3.8),(8.9,3.5),(9.4,2.9),(9.9,3.2),(10.4,2.0),(10.9,1.7),(11.4,1.1),(11.9,1.4),(12.4,0.2),(12.9,-0.1),(13.4,-0.6),(13.8,-0.4),(14.2,-1.2),(14.25,9.0),(14.6,9.6),(15,10.0),(15.5,9.4),(16,9.6),(16.5,8.6),(17,8.3),(17.5,7.8),(18,8.1),(18.5,7.0),(19,6.7),(19.5,6.2),(20,6.4),(20.5,5.6),(20.55,11.0),(21.0,10.8),(21.5,10.1),(22.0,10.4),(22.5,9.3),(23.0,9.0),(23.5,8.5),(24,8.2)]
cyan_b28 = [(0,0),(0.5,-0.4),(1,-1.0),(1.5,-0.8),(2,-2.1),(2.5,-2.4),(3,-3.1),(3.5,-2.8),(4,-4.1),(4.5,-4.4),(5,-5.0),(5.5,-5.5),(5.55,-0.5),(6.0,-0.8),(6.5,-1.4),(7.0,-1.1),(7.5,-2.3),(8.0,-2.6),(8.5,-3.2),(9.0,-2.9),(9.5,-4.1),(10.0,-4.4),(10.5,-5.0),(11.0,-4.7),(11.5,-5.8),(12.0,-6.1),(12.5,-6.6),(13.0,-6.3),(13.5,-7.4),(14.0,-7.7),(14.5,-8.2),(15.0,-7.9),(15.5,-9.0),(16.0,-9.3),(16.5,-9.8),(17.0,-9.5),(17.5,-10.6),(18.0,-10.9),(18.5,-11.4),(19.0,-11.1),(19.5,-12.2),(20.0,-12.5),(20.5,-12.8),(21.0,-12.6),(21.5,-13.5),(21.55,-8.0),(22.0,-8.3),(22.5,-8.8),(23.0,-8.5),(23.5,-9.5),(24,-9.8)]
darkred_b29 = [(0,0),(0.5,-0.5),(1,-1.3),(1.5,-1.1),(2,-2.5),(2.5,-2.8),(3,-3.6),(3.5,-3.3),(4,-4.7),(4.5,-5.0),(5,-5.7),(5.5,-6.2),(5.55,0.5),(6.0,0.2),(6.5,-0.4),(7.0,-0.1),(7.5,-1.4),(8.0,-1.7),(8.5,-2.4),(9.0,-2.1),(9.5,-3.4),(10.0,-3.7),(10.5,-4.3),(11.0,-4.0),(11.5,-5.2),(12.0,-5.5),(12.5,-6.0),(13.0,-5.7),(13.5,-6.9),(14.0,-7.2),(14.5,-7.7),(15.0,-7.4),(15.5,-8.6),(16.0,-8.9),(16.5,-9.4),(17.0,-9.1),(17.5,-10.2),(18.0,-10.5),(18.5,-11.0),(19.0,-10.7),(19.5,-11.8),(20.2,-12.4),(20.25,-6.0),(20.7,-6.3),(21.2,-7.0),(21.7,-6.7),(22.2,-7.8),(22.7,-8.1),(23.3,-8.4),(23.35,-1.0),(23.7,-1.2),(24,-1.5)]
blue_b30 = [(0,0),(0.5,-0.4),(1,-1.2),(1.5,-1.0),(2,-2.4),(2.5,-2.7),(3,-3.4),(3.5,-3.1),(4,-4.5),(4.5,-4.8),(5,-5.5),(5.5,-5.2),(5.9,-6.3),(5.95,1.0),(6.4,0.8),(6.9,0.1),(7.4,0.4),(7.9,-0.9),(8.4,-1.2),(8.9,-1.8),(9.4,-1.5),(9.9,-2.9),(10.4,-3.2),(10.9,-3.8),(11.4,-3.5),(11.9,-4.7),(12.4,-5.0),(12.9,-5.6),(13.4,-5.3),(13.9,-6.5),(14.4,-6.8),(14.8,-7.2),(14.85,4.0),(15.2,3.8),(15.7,3.2),(16.2,3.5),(16.7,2.4),(17.2,2.1),(17.7,1.6),(18.2,1.9),(18.7,0.8),(19.2,0.5),(19.7,0.0),(20.2,0.3),(20.7,-0.8),(21.2,-1.1),(21.7,-1.6),(22.2,-1.3),(22.7,-2.4),(23.2,-2.7),(23.7,-3.0),(24,-3.3)]
black_b31 = [(0,0),(0.5,-0.3),(1,-1),(1.5,-0.8),(2,-2),(2.5,-2.3),(3,-3.0),(3.5,-2.7),(4,-4.0),(4.5,-4.3),(5,-5.0),(5.5,-4.8),(6,-5.8),(6.05,-0.5),(6.5,-0.8),(7,-1.4),(7.5,-1.1),(8,-2.4),(8.5,-2.7),(9,-3.3),(9.5,-3.0),(10,-4.2),(10.5,-4.5),(11,-5.0),(11.05,0.5),(11.5,0.3),(12,-0.4),(12.5,-0.1),(13,-1.3),(13.5,-1.6),(14,-2.2),(14.5,-1.9),(15,-3.0),(15.5,-3.3),(16,-3.8),(16.5,-3.5),(17,-4.6),(17.05,1.5),(17.5,1.3),(18,0.7),(18.5,1.0),(19,-0.1),(19.5,-0.4),(20,-0.8),(20.5,-0.5),(21,-1.6),(21.5,-1.9),(22,-2.4),(22.5,-2.1),(23,-3.2),(23.5,-3.5),(24,-4.0)]
navy_b32 = [(0,0),(0.5,1.5),(1,5.8),(1.5,5.0),(2.0,5.2),(2.5,4.0),(3.2,3.4),(3.25,13.5),(3.6,13.3),(4,12.8),(4.5,13.1),(5,12.0),(5.5,11.7),(6,11.2),(6.5,11.5),(7,10.4),(7.5,10.1),(8,9.6),(8.5,9.9),(9,8.8),(9.5,8.5),(10,8.0),(10.5,8.3),(11,7.2),(11.5,6.9),(12,6.4),(12.5,6.7),(13,5.6),(13.5,5.3),(14,4.8),(14.5,5.1),(15,4.0),(15.5,3.6),(15.55,13.0),(16.0,12.8),(16.5,12.0),(17.0,12.3),(17.5,11.2),(18.0,10.9),(18.5,10.4),(19.0,10.7),(19.5,9.6),(20.0,9.3),(20.5,8.8),(21.0,9.1),(21.5,8.0),(22.0,7.7),(22.5,7.2),(23.0,7.5),(23.5,6.4),(24,6.0)]
blue_b33 = [(0,0),(0.5,-0.3),(1,-1.0),(1.5,-0.8),(2,-2.0),(2.5,-0.5),(3,-0.5),(3.5,-0.9),(4,-1.6),(4.5,-1.4),(5,-2.6),(5.3,-2.9),(5.35,9.0),(5.7,11.5),(6,12.5),(6.5,12.2),(7,11.8),(7.5,12.2),(8,13.0),(8.5,12.7),(9,12.2),(9.5,11.5),(10,11.2),(10.5,11.4),(11,10.4),(11.5,10.1),(12,9.6),(12.5,9.9),(13,8.8),(13.5,9.3),(14,9.8),(14.5,9.4),(15,9.0),(15.5,9.2),(16,8.2),(16.5,7.9),(17,7.4),(17.5,7.6),(18,6.5),(18.5,6.2),(19,5.8),(19.5,6.0),(20,5.0),(20.5,4.7),(21,4.2),(21.5,4.4),(22,3.4),(22.5,3.1),(23,2.6),(23.5,2.8),(24,1.8)]
yellow_b34 = [(0,0),(0.5,-0.5),(1,-1.3),(1.5,-1.1),(2,-2.5),(2.5,-2.8),(3,-3.6),(3.5,-3.3),(4,-4.6),(4.5,-4.9),(5,-5.6),(5.5,-5.3),(6,-6.5),(6.5,-6.8),(7,-7.4),(7.5,-7.1),(8,-8.2),(8.5,-8.5),(9,-9.0),(9.5,-9.4),(9.55,-4.0),(10.0,-4.3),(10.5,-4.8),(11.0,-4.5),(11.5,-5.7),(12.0,-6.0),(12.5,-6.5),(13.0,-6.2),(13.5,-7.3),(14.0,-7.6),(14.5,-8.1),(15.0,-7.8),(15.5,-8.9),(16.0,-9.2),(16.5,-9.7),(17,-10.1),(17.05,-3.0),(17.5,-3.3),(18,-3.8),(18.5,-3.5),(19,-4.6),(19.5,-4.9),(20,-5.4),(20.5,-5.1),(21,-6.2),(21.5,-6.5),(22,-7.0),(22.5,-6.7),(23,-7.7),(23.5,-8.0),(24,-8.4)]
red_b35 = [(0,0),(0.5,-0.4),(1,-1),(1.5,0.5),(2,1.5),(2.5,1.2),(3,0.5),(3.5,2.0),(4,3.0),(4.5,2.6),(5,2.0),(5.5,3.8),(6,5.0),(6.5,6.5),(7,7.5),(7.5,8.8),(8,9.5),(8.5,10.2),(9,10.8),(9.5,10.4),(10,10.0),(10.5,9.4),(11,9.2),(11.5,8.6),(12,8.4),(12.5,7.8),(13,7.6),(13.5,7.0),(14,6.8),(14.5,6.2),(15,6.0),(15.5,5.4),(16,5.2),(16.5,4.6),(17,4.4),(17.5,3.8),(18,3.6),(18.5,3.2),(18.55,10.0),(19.0,9.8),(19.5,9.2),(20.0,10.0),(20.5,11.2),(21.0,12.7),(21.5,12.0),(22,11.5),(22.5,10.5),(23,9.5),(23.5,8.0),(24,6.5)]

series = [
    (red_b8, RED), (green_b7, GREEN), (blue_b1, BLUE), (magenta_b5, MAGENTA), (cyan_b6, CYAN),
    (darkred_b9, DARKRED), (yellow_b10, YELLOW), (slate_b4, SLATE), (navy_b2, NAVY), (black_b31, BLACK),
    (red_b13, RED), (green_b15, GREEN), (blue_b3, BLUE), (magenta_b14, MAGENTA), (cyan_b12, CYAN),
    (darkred_b22, DARKRED), (yellow_b17, YELLOW), (slate_b20, SLATE), (navy_b16, NAVY),
    (red_b18, RED), (green_b26, GREEN), (blue_b11, BLUE), (magenta_b23, MAGENTA), (cyan_b19, CYAN),
    (darkred_b29, DARKRED), (yellow_b34, YELLOW), (navy_b32, NAVY), (blue_b21, BLUE),
    (red_b27, RED), (cyan_b28, CYAN), (blue_b30, BLUE), (blue_b33, BLUE), (red_b35, RED),
    (yellow_flat, YELLOW), (red_flat, RED), (magenta_low, MAGENTA), (magenta_upper, MAGENTA),
    (green_top, GREEN), (slate_top, SLATE), (slate_right, SLATE), (blue_late, BLUE),
    (darkred_low, DARKRED), (red_low_a, RED), (red_low_b, RED), (red_low_c, RED), (green_low, GREEN),
    (navy_flat, NAVY), (blue_top2, BLUE), (blue_top1, BLUE), (black_bottom, BLACK),
]

x_ticks = list(range(0, 24))
y_ticks = [-40, -30, -20, -10, 0, 10, 20, 30, 40]

# ---------------- figure ----------------
FONT = "DejaVu Sans Mono"
FS = 8.2
fig = plt.figure(figsize=(6.4, 4.8), dpi=100)
ax = fig.add_axes([51/640, 1 - 446/480, (620 - 51)/640, (446 - 32)/480])

for pts, col in series:
    xs = [p[0] for p in pts]
    ys = [p[1] for p in pts]
    ax.plot(xs, ys, color=col, lw=0.8, antialiased=True)

ax.set_xlim(0, 24)
ax.set_ylim(-40, 40)
ax.set_xticks(x_ticks)
ax.set_yticks(y_ticks)
ax.tick_params(direction="in", length=4.5, width=0.75, top=True, right=True,
               labelsize=FS, pad=5, colors="black")
for lab in ax.get_xticklabels() + ax.get_yticklabels():
    lab.set_family(FONT)
for sp in ax.spines.values():
    sp.set_linewidth(0.8)
    sp.set_color("black")

fig.text(335.5/640, 1 - 15/480, "Cumulative Z-Squared Value", ha="center", va="center",
         fontsize=FS, family=FONT)
fig.text(335.5/640, 1 - 473/480, "Hour of Day", ha="center", va="center",
         fontsize=FS, family=FONT)
fig.text(11/640, 1 - 239/480, "Cumulative (Z*Z)-1", ha="center", va="center",
         rotation=90, fontsize=FS, family=FONT)

fig.savefig("out.png", dpi=100, facecolor="white")
